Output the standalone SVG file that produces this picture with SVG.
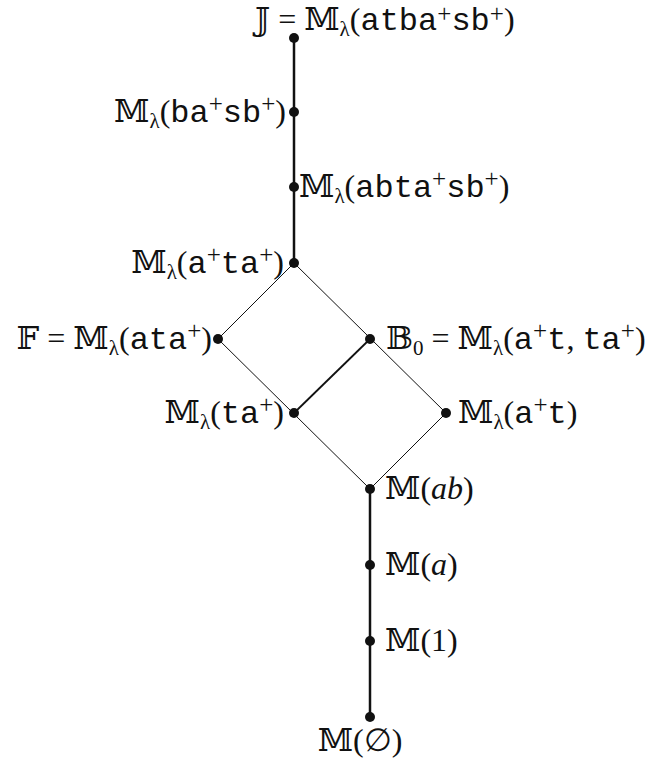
<svg xmlns="http://www.w3.org/2000/svg" width="649" height="761" viewBox="0 0 649 761">
<style>
.l{font-family:"Liberation Serif","DejaVu Serif",serif;font-size:32px;fill:#111}
.tt{font-family:"Liberation Mono","DejaVu Sans Mono",monospace;font-size:32px}
.s{font-size:21px}
.p{font-size:25px}
.i{font-style:italic}
.thick{stroke:#111;stroke-width:2.5;fill:none}
.thin{stroke:#111;stroke-width:1;fill:none}
.dot{fill:#111}
</style>
<g id="connectors">
<line class="thick" x1="294" y1="38" x2="294" y2="263"/>
<line class="thin" x1="294" y1="263" x2="218" y2="339"/>
<line class="thin" x1="294" y1="263" x2="446" y2="413"/>
<line class="thin" x1="218" y1="339" x2="370" y2="489"/>
<line class="thin" x1="370" y1="339" x2="294" y2="413" style="stroke-width:1.8"/>
<line class="thin" x1="446" y1="413" x2="370" y2="489"/>
<line class="thick" x1="370" y1="489" x2="370" y2="717"/>
</g>
<g id="n-J"><circle class="dot" cx="294" cy="38" r="5"/>
<text class="l" x="255" y="30">𝕁 = 𝕄<tspan class="s" dy="6">λ</tspan><tspan dy="-6">(</tspan><tspan class="tt">atba</tspan><tspan class="p" dy="-8">+</tspan><tspan class="tt" dy="8">sb</tspan><tspan class="p" dy="-8">+</tspan><tspan dy="8">)</tspan></text></g>
<g id="n-basb"><circle class="dot" cx="294" cy="112" r="5"/>
<text class="l" x="286" y="122" text-anchor="end">𝕄<tspan class="s" dy="6">λ</tspan><tspan dy="-6">(</tspan><tspan class="tt">ba</tspan><tspan class="p" dy="-10">+</tspan><tspan class="tt" dy="10">sb</tspan><tspan class="p" dy="-10">+</tspan><tspan dy="10">)</tspan></text></g>
<g id="n-abtasb"><circle class="dot" cx="294" cy="187" r="5"/>
<text class="l" x="299" y="197">𝕄<tspan class="s" dy="6">λ</tspan><tspan dy="-6">(</tspan><tspan class="tt">abta</tspan><tspan class="p" dy="-10">+</tspan><tspan class="tt" dy="10">sb</tspan><tspan class="p" dy="-10">+</tspan><tspan dy="10">)</tspan></text></g>
<g id="n-ata"><circle class="dot" cx="294" cy="263" r="5"/>
<text class="l" x="284" y="273" text-anchor="end">𝕄<tspan class="s" dy="6">λ</tspan><tspan dy="-6">(</tspan><tspan class="tt">a</tspan><tspan class="p" dy="-10">+</tspan><tspan class="tt" dy="10">ta</tspan><tspan class="p" dy="-10">+</tspan><tspan dy="10">)</tspan></text></g>
<g id="n-F"><circle class="dot" cx="218" cy="339" r="5"/>
<text class="l" x="212" y="349" text-anchor="end">𝔽 = 𝕄<tspan class="s" dy="6">λ</tspan><tspan dy="-6">(</tspan><tspan class="tt">ata</tspan><tspan class="p" dy="-10">+</tspan><tspan dy="10">)</tspan></text></g>
<g id="n-B0"><circle class="dot" cx="370" cy="339" r="5"/>
<text class="l" x="386" y="349">𝔹<tspan class="s" dy="6">0</tspan><tspan dy="-6"> = 𝕄</tspan><tspan class="s" dy="6">λ</tspan><tspan dy="-6">(</tspan><tspan class="tt">a</tspan><tspan class="p" dy="-10">+</tspan><tspan class="tt" dy="10">t</tspan><tspan>, </tspan><tspan class="tt">ta</tspan><tspan class="p" dy="-10">+</tspan><tspan dy="10">)</tspan></text></g>
<g id="n-ta"><circle class="dot" cx="294" cy="413" r="5"/>
<text class="l" x="284" y="423" text-anchor="end">𝕄<tspan class="s" dy="6">λ</tspan><tspan dy="-6">(</tspan><tspan class="tt">ta</tspan><tspan class="p" dy="-10">+</tspan><tspan dy="10">)</tspan></text></g>
<g id="n-at"><circle class="dot" cx="446" cy="413" r="5"/>
<text class="l" x="458" y="423">𝕄<tspan class="s" dy="6">λ</tspan><tspan dy="-6">(</tspan><tspan class="tt">a</tspan><tspan class="p" dy="-10">+</tspan><tspan class="tt" dy="10">t</tspan><tspan>)</tspan></text></g>
<g id="n-ab"><circle class="dot" cx="370" cy="489" r="5"/>
<text class="l" x="385" y="499">𝕄(<tspan class="i">ab</tspan>)</text></g>
<g id="n-a"><circle class="dot" cx="370" cy="565" r="5"/>
<text class="l" x="385" y="575">𝕄(<tspan class="i">a</tspan>)</text></g>
<g id="n-1"><circle class="dot" cx="370" cy="641" r="5"/>
<text class="l" x="385" y="651">𝕄(1)</text></g>
<g id="n-empty"><circle class="dot" cx="370" cy="717" r="5"/>
<text class="l" x="360" y="751" text-anchor="middle">𝕄(∅)</text></g>
</svg>
